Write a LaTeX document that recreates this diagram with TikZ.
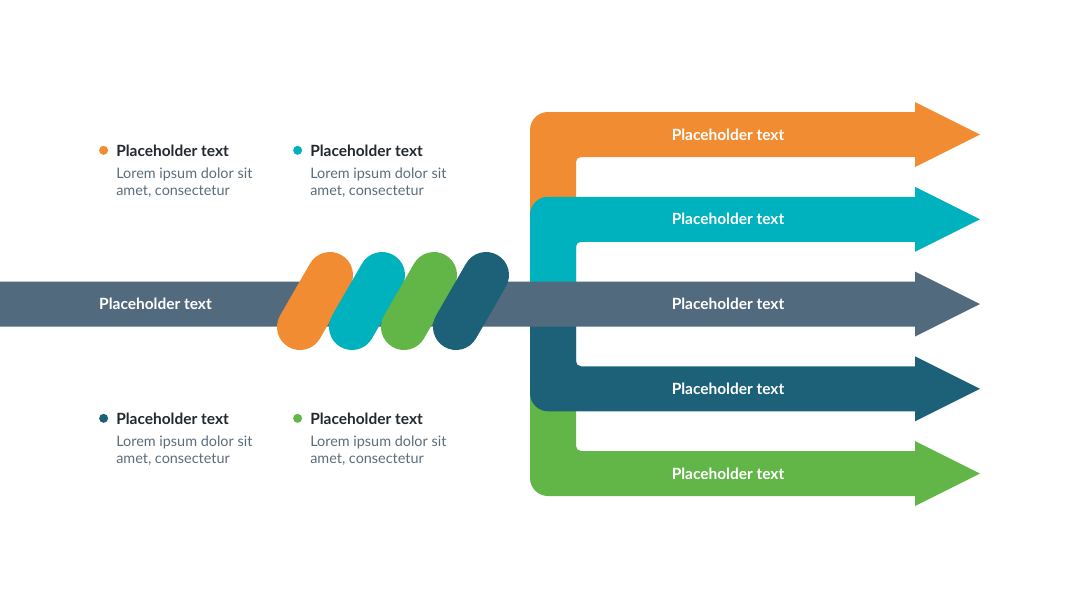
\documentclass[tikz,border=0pt]{standalone}
\usepackage{fontspec}
\setmainfont{Lato}
\definecolor{brandorange}{RGB}{242, 140, 50}
\definecolor{brandcyan}{RGB}{0, 178, 190}
\definecolor{brandgreen}{RGB}{98, 182, 72}
\definecolor{brandteal}{RGB}{29, 97, 120}
\definecolor{brandslate}{RGB}{82, 106, 126}
\definecolor{titlegray}{RGB}{34, 40, 46}
\definecolor{bodygray}{RGB}{92, 108, 122}
\usetikzlibrary{positioning}
\tikzset{
  bandlabel/.style={text=white, inner sep=0pt, font=\bfseries\fontsize{11}{13}\selectfont},
  legendtitle/.style={anchor=base west, inner sep=0pt, text=titlegray, font=\bfseries\fontsize{11}{13}\selectfont},
  legendbody/.style={inner sep=0pt, align=left, text=bodygray, font=\fontsize{10.25}{12.1}\selectfont},
  legenddot/.style={circle, minimum size=0.225cm, inner sep=0pt},
  pill/.style={line width=1.15cm, line cap=round},
}

\begin{document}
\begin{tikzpicture}[x=0.025cm, y=-0.025cm]
  \useasboundingbox (0,0) rectangle (1080,608);
  % elbow arrows, back to front
  \fill[brandorange] (530,304) [rounded corners=0.45cm] -- (530,112) -- (700,112) [sharp corners] -- (915,112) -- (915,102) -- (980,134.5) -- (915,167) -- (915,157) -- (700,157) [rounded corners=0.125cm] -- (576,157) -- (576,240) [sharp corners] -- (576,304) -- cycle;
  \fill[brandcyan] (530,304) [rounded corners=0.45cm] -- (530,196.75) -- (700,196.75) [sharp corners] -- (915,196.75) -- (915,186.75) -- (980,219.25) -- (915,251.75) -- (915,241.75) -- (700,241.75) [rounded corners=0.125cm] -- (576,241.75) -- (576,270) [sharp corners] -- (576,304) -- cycle;
  \fill[brandgreen] (530,304) [rounded corners=0.45cm] -- (530,496) -- (700,496) [sharp corners] -- (915,496) -- (915,506) -- (980,473.5) -- (915,441) -- (915,451) -- (700,451) [rounded corners=0.125cm] -- (576,451) -- (576,380) [sharp corners] -- (576,304) -- cycle;
  \fill[brandteal] (530,304) [rounded corners=0.45cm] -- (530,411.25) -- (700,411.25) [sharp corners] -- (915,411.25) -- (915,421.25) -- (980,388.75) -- (915,356.25) -- (915,366.25) -- (700,366.25) [rounded corners=0.125cm] -- (576,366.25) -- (576,340) [sharp corners] -- (576,304) -- cycle;
  % main arrow
  \fill[brandslate] (0,281.5) -- (915,281.5) -- (915,271.5) -- (980,304) -- (915,336.5) -- (915,326.5) -- (0,326.5) -- cycle;
  % twisted pills
  \draw[pill, brandorange] (300,327) -- (330,275);
  \draw[pill, brandcyan] (352,327) -- (382,275);
  \draw[pill, brandgreen] (404,327) -- (434,275);
  \draw[pill, brandteal] (456,327) -- (486,275);

  \node[bandlabel] (main) at (155.5,304) {Placeholder text};
  \node[bandlabel] (out1) at (728,134.5) {Placeholder text};
  \node[bandlabel] (out2) at (728,219.25) {Placeholder text};
  \node[bandlabel] (out3) at (728,304) {Placeholder text};
  \node[bandlabel] (out4) at (728,388.75) {Placeholder text};
  \node[bandlabel] (out5) at (728,473.5) {Placeholder text};

  % legend
  \node[legendtitle] (t1) at (116,156) {Placeholder text};
  \node[legendtitle] (t2) at (310,156) {Placeholder text};
  \node[legendtitle] (t3) at (116,424) {Placeholder text};
  \node[legendtitle] (t4) at (310,424) {Placeholder text};
  \node[legenddot, fill=brandorange, left=0.19cm of t1] (d1) {};
  \node[legenddot, fill=brandcyan, left=0.19cm of t2] (d2) {};
  \node[legenddot, fill=brandteal, left=0.19cm of t3] (d3) {};
  \node[legenddot, fill=brandgreen, left=0.19cm of t4] (d4) {};
  \node[legendbody, below=0.27cm of t1.south west, anchor=north west] (b1) {Lorem ipsum dolor sit\\amet, consectetur};
  \node[legendbody, below=0.27cm of t2.south west, anchor=north west] (b2) {Lorem ipsum dolor sit\\amet, consectetur};
  \node[legendbody, below=0.27cm of t3.south west, anchor=north west] (b3) {Lorem ipsum dolor sit\\amet, consectetur};
  \node[legendbody, below=0.27cm of t4.south west, anchor=north west] (b4) {Lorem ipsum dolor sit\\amet, consectetur};
\end{tikzpicture}
\end{document}
